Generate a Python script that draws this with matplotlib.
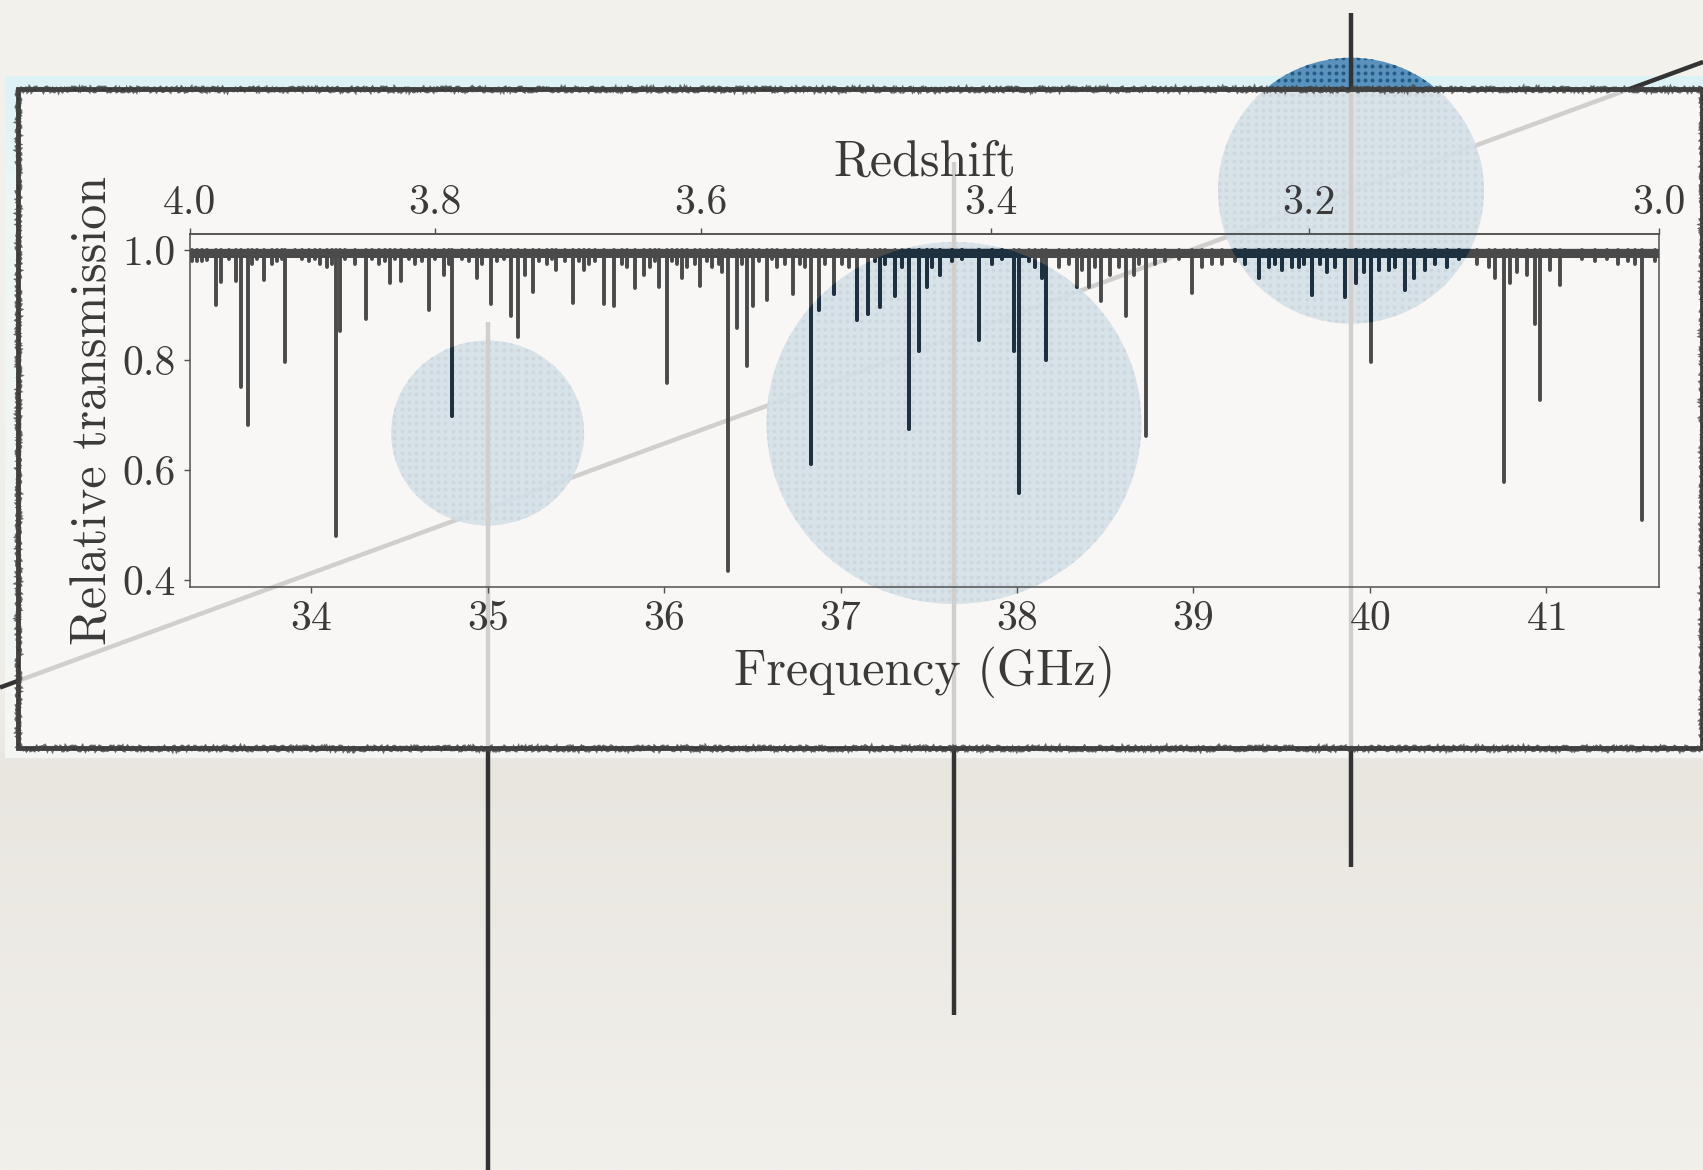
import numpy as np
import matplotlib
matplotlib.use("Agg")
import matplotlib.pyplot as plt
from matplotlib.patches import Rectangle, Ellipse
from matplotlib.colors import to_rgb
from matplotlib.ticker import FormatStrFormatter

# ---------------------------------------------------------------- spectrum data
nu_rest_ghz = 166.56                 # rest frequency used for the redshift axis
z_ticks = [4.0, 3.8, 3.6, 3.4, 3.2, 3.0]
freq_ticks = [34, 35, 36, 37, 38, 39, 40, 41]
trans_ticks = [0.4, 0.6, 0.8, 1.0]

# resolved absorbers: centre frequency (GHz) and minimum transmission
line_freq = [33.461, 33.488, 33.573, 33.601, 33.641, 33.730, 33.851, 34.140,
             34.164, 34.312, 34.448, 34.508, 34.667, 34.752, 34.797, 34.939,
             35.020, 35.134, 35.172, 35.213, 35.257, 35.387, 35.481, 35.543,
             35.657, 35.714, 35.837, 35.888, 35.972, 36.014, 36.100, 36.205,
             36.328, 36.362, 36.413, 36.468, 36.502, 36.585, 36.729, 36.830,
             36.876, 36.961, 37.093, 37.154, 37.226, 37.307, 37.386, 37.443,
             37.490, 37.566, 37.783, 37.981, 38.010, 38.143, 38.165, 38.341,
             38.407, 38.477, 38.530, 38.618, 38.734, 38.993, 39.370, 39.673,
             39.758, 39.862, 39.924, 40.005, 40.202, 40.249, 40.712, 40.759,
             40.797, 40.939, 40.963, 41.023, 41.081, 41.544]
line_trans = [0.900, 0.942, 0.944, 0.751, 0.683, 0.947, 0.797, 0.480,
              0.853, 0.876, 0.941, 0.945, 0.891, 0.955, 0.698, 0.950,
              0.902, 0.880, 0.843, 0.955, 0.925, 0.965, 0.905, 0.964,
              0.902, 0.899, 0.931, 0.955, 0.934, 0.758, 0.950, 0.936,
              0.960, 0.417, 0.859, 0.790, 0.898, 0.909, 0.921, 0.611,
              0.891, 0.920, 0.873, 0.885, 0.897, 0.917, 0.675, 0.817,
              0.934, 0.955, 0.837, 0.816, 0.559, 0.950, 0.801, 0.934,
              0.934, 0.908, 0.955, 0.881, 0.663, 0.922, 0.950, 0.918,
              0.960, 0.915, 0.940, 0.796, 0.928, 0.950, 0.950, 0.579,
              0.940, 0.866, 0.727, 0.965, 0.937, 0.510]

# weak absorbers forming the forest floor
weak_freq = [33.324, 33.353, 33.381, 33.409, 33.531, 33.664, 33.692, 33.777,
             33.805, 33.834, 33.909, 33.947, 33.985, 34.023, 34.051, 34.089,
             34.117, 34.193, 34.249, 34.344, 34.382, 34.419, 34.476, 34.552,
             34.590, 34.627, 34.703, 34.778, 34.854, 34.892, 34.967, 35.052,
             35.090, 35.289, 35.336, 35.364, 35.440, 35.515, 35.572, 35.610,
             35.761, 35.790, 35.922, 35.950, 36.045, 36.073, 36.130, 36.177,
             36.243, 36.271, 36.309, 36.441, 36.536, 36.611, 36.640, 36.687,
             36.772, 36.800, 36.914, 37.008, 37.046, 37.197, 37.254, 37.348,
             37.519, 37.632, 37.689, 37.859, 37.916, 38.067, 38.105, 38.237,
             38.294, 38.369, 38.445, 38.577, 38.662, 38.690, 38.785, 38.841,
             38.917, 39.049, 39.106, 39.162, 39.238, 39.294, 39.427, 39.464,
             39.502, 39.559, 39.597, 39.626, 39.720, 39.805, 39.966, 40.051,
             40.107, 40.145, 40.315, 40.372, 40.438, 40.504, 40.608, 40.674,
             40.834, 40.891, 41.202, 41.278, 41.344, 41.410, 41.466, 41.504,
             41.617]
weak_trans = [0.980, 0.980, 0.980, 0.982, 0.985, 0.975, 0.985, 0.975,
              0.980, 0.985, 0.990, 0.985, 0.980, 0.985, 0.975, 0.970,
              0.975, 0.985, 0.975, 0.985, 0.975, 0.980, 0.985, 0.985,
              0.975, 0.980, 0.985, 0.975, 0.985, 0.980, 0.975, 0.980,
              0.985, 0.980, 0.975, 0.985, 0.980, 0.980, 0.975, 0.980,
              0.975, 0.970, 0.970, 0.980, 0.980, 0.975, 0.970, 0.975,
              0.980, 0.970, 0.975, 0.975, 0.980, 0.985, 0.970, 0.975,
              0.975, 0.970, 0.975, 0.975, 0.970, 0.980, 0.975, 0.970,
              0.970, 0.980, 0.985, 0.975, 0.985, 0.980, 0.970, 0.970,
              0.975, 0.965, 0.970, 0.970, 0.955, 0.975, 0.975, 0.980,
              0.985, 0.970, 0.975, 0.975, 0.980, 0.975, 0.970, 0.975,
              0.965, 0.970, 0.970, 0.975, 0.975, 0.970, 0.960, 0.965,
              0.965, 0.970, 0.965, 0.975, 0.970, 0.985, 0.975, 0.970,
              0.960, 0.955, 0.985, 0.980, 0.985, 0.975, 0.980, 0.975,
              0.980]
continuum = 1.0
noise_floor = 0.987

# ---------------------------------------------------------------- overlay marks
# figure pixel units, y measured downward from the top edge
bubble_x = [487.6, 954.0, 1351.0]
bubble_y = [433.0, 423.0, 190.7]
bubble_w = [193.0, 375.0, 266.0]
bubble_h = [185.0, 362.0, 266.0]
stem_x = [487.6, 953.8, 1350.6]
stem_top = [321.5, 162.0, 13.0]
stem_bottom = [1180.0, 1015.0, 866.5]
trend_x = [0.0, 1703.0]
trend_y = [687.5, 62.0]

# ---------------------------------------------------------------- style
plt.rcParams["font.family"] = "cmr10"
plt.rcParams["mathtext.fontset"] = "cm"
plt.rcParams["axes.formatter.use_mathtext"] = True
plt.rcParams["axes.unicode_minus"] = False

W, H = 1703, 1170
fig = plt.figure(figsize=(W / 100, H / 100), dpi=100)
fig.patch.set_facecolor("#efede8")

bg = fig.add_axes([0, 0, 1, 1], zorder=0)
bg.set_xlim(0, W)
bg.set_ylim(H, 0)
bg.axis("off")


def vgradient(stops, n=400):
    """Vertical colour ramp as an (n, 1, 3) image from (position, colour) stops."""
    pos = np.array([s[0] for s in stops], dtype=float)
    cols = np.array([to_rgb(s[1]) for s in stops])
    t = np.linspace(pos[0], pos[-1], n)
    img = np.stack([np.interp(t, pos, cols[:, k]) for k in range(3)], axis=-1)
    return img[:, None, :]


# paper
bg.imshow(vgradient([(0, "#f4f2ed"), (700, "#efede8"), (770, "#e9e6e0"),
                     (1170, "#f2f0eb")]),
          extent=(0, W, H, 0), aspect="auto", zorder=0, interpolation="bilinear")
# tinted mount behind the framed panel
bg.imshow(vgradient([(76, "#dcf2f5"), (200, "#eef6f5"), (758, "#f4f6f3")]),
          extent=(5, W, 758, 76), aspect="auto", zorder=1, interpolation="bilinear")

panel_x0, panel_y0, panel_x1, panel_y1 = 18, 89, 1702, 748
bg.add_patch(Rectangle((panel_x0, panel_y0), panel_x1 - panel_x0, panel_y1 - panel_y0,
                       facecolor="#f8f7f5", edgecolor="none", zorder=2))

# trend line
bg.plot(trend_x, trend_y, color="#333333", lw=3.2, solid_capstyle="butt", zorder=3)

# bubbles with a halftone dot screen
bubble_fill = "#4a88b8"
dot_color = "#245b82"
gx, gy = np.meshgrid(np.arange(0, W, 7.3), np.arange(0, H, 7.3))
clip_shapes = []
for bx, by, bw, bh in zip(bubble_x, bubble_y, bubble_w, bubble_h):
    e = Ellipse((bx, by), bw, bh, facecolor=bubble_fill, edgecolor="none",
                alpha=0.9, zorder=4)
    bg.add_patch(e)
    sel = ((gx - bx) / (bw / 2)) ** 2 + ((gy - by) / (bh / 2)) ** 2 < 1.2
    dots = bg.scatter(gx[sel], gy[sel], s=8, color=dot_color, lw=0, zorder=4.1)
    dots.set_clip_path(e)
    clip_shapes.append((bx, by, bw, bh))

# stems
bg.vlines(stem_x, stem_top, stem_bottom, color="#333333", lw=3.2, zorder=5)

# translucent panel veil over the overlay marks
bg.add_patch(Rectangle((panel_x0, panel_y0), panel_x1 - panel_x0, panel_y1 - panel_y0,
                       facecolor="#f8f7f5", edgecolor="none", alpha=0.8, zorder=6))

# rough frame
frame = Rectangle((panel_x0, panel_y0), panel_x1 - panel_x0, panel_y1 - panel_y0,
                  fill=False, edgecolor="#363636", lw=3.4, zorder=7)
bg.add_patch(frame)
frame2 = Rectangle((panel_x0, panel_y0), panel_x1 - panel_x0, panel_y1 - panel_y0,
                   fill=False, edgecolor="#444444", lw=2.0, alpha=0.8, zorder=7)
frame2.set_sketch_params(scale=2.5, length=4.0, randomness=6.0)
bg.add_patch(frame2)

# ---------------------------------------------------------------- spectrum axes
ax_l, ax_r, ax_t, ax_b = 190, 1659, 234.4, 586.7
ax = fig.add_axes([ax_l / W, 1 - ax_b / H, (ax_r - ax_l) / W, (ax_b - ax_t) / H],
                  zorder=3)
ax.set_facecolor("none")

f_lo, f_hi = nu_rest_ghz / 5.0, nu_rest_ghz / 4.0
spec_color = "#4a4a4a"
navy = "#1d3040"


def draw_spectrum(color, clip=None):
    arts = []
    arts.append(ax.fill_between([f_lo, f_hi], noise_floor, continuum,
                                color=color, lw=0))
    arts += ax.plot([f_lo, f_hi], [continuum, continuum], color=color, lw=2.4,
                    solid_capstyle="butt")
    arts.append(ax.vlines(weak_freq, weak_trans, continuum, colors=color, lw=2.8,
                          capstyle="round"))
    arts.append(ax.vlines(line_freq, line_trans, continuum, colors=color, lw=2.8,
                          capstyle="round"))
    if clip is not None:
        for a in arts:
            a.set_clip_path(clip)
    return arts


draw_spectrum(spec_color)
for bx, by, bw, bh in clip_shapes:
    clip_e = Ellipse((bx, by), bw, bh, transform=bg.transData)
    draw_spectrum(navy, clip=clip_e)

ax.set_xlim(f_lo, f_hi)
span = continuum - min(line_trans)
ax.set_ylim(min(line_trans) - 0.05 * span, continuum + 0.05 * span)

text_color = "#3a3a3a"
axis_color = "#505050"
for s in ax.spines.values():
    s.set_color(axis_color)
    s.set_linewidth(1.1)

ax.set_xticks(freq_ticks)
ax.set_yticks(trans_ticks)
ax.yaxis.set_major_formatter(FormatStrFormatter("%.1f"))
ax.tick_params(axis="both", which="major", direction="out", length=4, width=1.0,
               color=axis_color, labelcolor=text_color, labelsize=30)
ax.tick_params(axis="x", pad=6)
ax.tick_params(axis="y", pad=6)
ax.set_xlabel("Frequency (GHz)", fontsize=36, color=text_color, labelpad=6)
ax.set_ylabel("Relative transmission", fontsize=36, color=text_color, labelpad=4)


def nu_to_z(nu):
    nu = np.asarray(nu, dtype=float)
    with np.errstate(divide="ignore", invalid="ignore"):
        return nu_rest_ghz / nu - 1.0


def z_to_nu(z):
    z = np.asarray(z, dtype=float)
    with np.errstate(divide="ignore", invalid="ignore"):
        return nu_rest_ghz / (1.0 + z)


sec = ax.secondary_xaxis("top", functions=(nu_to_z, z_to_nu))
sec.set_xticks(z_ticks)
sec.xaxis.set_major_formatter(FormatStrFormatter("%.1f"))
sec.tick_params(axis="x", direction="out", length=4, width=1.0, color=axis_color,
                labelcolor=text_color, labelsize=30, pad=5)
sec.spines["top"].set_color(axis_color)
sec.spines["top"].set_linewidth(1.1)
sec.set_xlabel("Redshift", fontsize=36, color=text_color, labelpad=6)

fig.savefig("out.png", dpi=100, facecolor=fig.get_facecolor())
